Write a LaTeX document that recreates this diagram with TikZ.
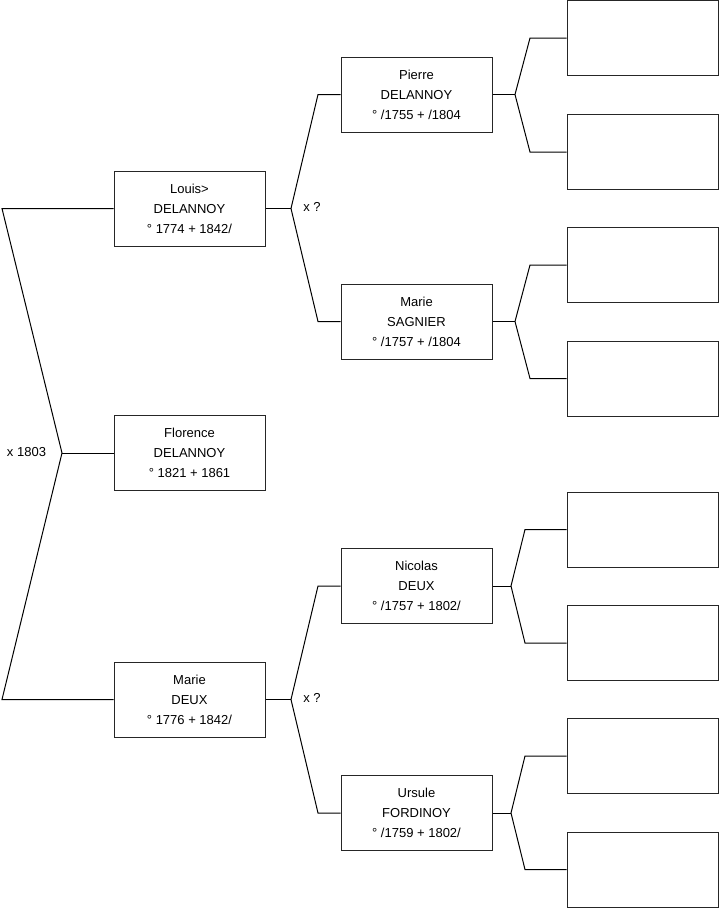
\documentclass[tikz,border=0pt]{standalone}
\usepackage{fontspec}
\setmainfont{Liberation Sans}

\begin{document}
\begin{tikzpicture}[x=1pt, y=-1pt, line width=1pt,
    person/.style={draw=black!85, minimum width=151pt, minimum height=75pt,
        inner sep=0pt, align=center, font=\fontsize{13}{20}\selectfont},
    label/.style={font=\fontsize{13}{15}\selectfont, inner sep=0pt}]
    \useasboundingbox (0,0) rectangle (719,908);

    % 第一代
    \node[person] (louis) at (189.5, 208.5) {Louis>\\DELANNOY\\° 1774 + 1842/};
    \node[person] (florence) at (189.5, 453) {Florence\\DELANNOY\\° 1821 + 1861};
    \node[person] (marie) at (189.5, 699.5) {Marie\\DEUX\\° 1776 + 1842/};

    % 第二代
    \node[person] (pierre) at (416.5, 94.5) {Pierre\\DELANNOY\\° /1755 + /1804};
    \node[person] (sagnier) at (416.5, 321.5) {Marie\\SAGNIER\\° /1757 + /1804};
    \node[person] (nicolas) at (416.5, 586) {Nicolas\\DEUX\\° /1757 + 1802/};
    \node[person] (ursule) at (416.5, 813) {Ursule\\FORDINOY\\° /1759 + 1802/};

    % 第三代 (空)
    \node[person] (pa) at (642.5, 38) {};
    \node[person] (pb) at (642.5, 152) {};
    \node[person] (sa) at (642.5, 265) {};
    \node[person] (sb) at (642.5, 378.5) {};
    \node[person] (na) at (642.5, 529.5) {};
    \node[person] (nb) at (642.5, 643) {};
    \node[person] (ua) at (642.5, 756) {};
    \node[person] (ub) at (642.5, 869.5) {};

    % 分叉点
    \coordinate (f0) at (62, 453);
    \coordinate (f0a) at (2, 208.5);
    \coordinate (f0b) at (2, 699.5);
    \coordinate (fl) at (291, 208.5);
    \coordinate (fla) at (318, 94.5);
    \coordinate (flb) at (318, 321.5);
    \coordinate (fm) at (291, 699.5);
    \coordinate (fma) at (318, 586);
    \coordinate (fmb) at (318, 813);
    \coordinate (fp) at (515, 94.5);
    \coordinate (fpa) at (530, 38);
    \coordinate (fpb) at (530, 152);
    \coordinate (fs) at (515, 321.5);
    \coordinate (fsa) at (530, 265);
    \coordinate (fsb) at (530, 378.5);
    \coordinate (fn) at (511, 586);
    \coordinate (fna) at (525, 529.5);
    \coordinate (fnb) at (525, 643);
    \coordinate (fu) at (511, 813);
    \coordinate (fua) at (525, 756);
    \coordinate (fub) at (525, 869.5);

    % 连线
    \draw (louis.west) -- (f0a) -- (f0) -- (f0b) -- (marie.west);
    \draw (f0) -- (florence.west);
    \draw (pierre.west) -- (fla) -- (fl) -- (flb) -- (sagnier.west);
    \draw (louis.east) -- (fl);
    \draw (nicolas.west) -- (fma) -- (fm) -- (fmb) -- (ursule.west);
    \draw (marie.east) -- (fm);
    \draw (pa.west) -- (fpa) -- (fp) -- (fpb) -- (pb.west);
    \draw (pierre.east) -- (fp);
    \draw (sa.west) -- (fsa) -- (fs) -- (fsb) -- (sb.west);
    \draw (sagnier.east) -- (fs);
    \draw (na.west) -- (fna) -- (fn) -- (fnb) -- (nb.west);
    \draw (nicolas.east) -- (fn);
    \draw (ua.west) -- (fua) -- (fu) -- (fub) -- (ub.west);
    \draw (ursule.east) -- (fu);

    % 婚姻
    \node[label] (m0) at (26.5, 452) {x 1803};
    \node[label] (ml) at (312, 207) {x ?};
    \node[label] (mm) at (312, 697.5) {x ?};
\end{tikzpicture}
\end{document}
